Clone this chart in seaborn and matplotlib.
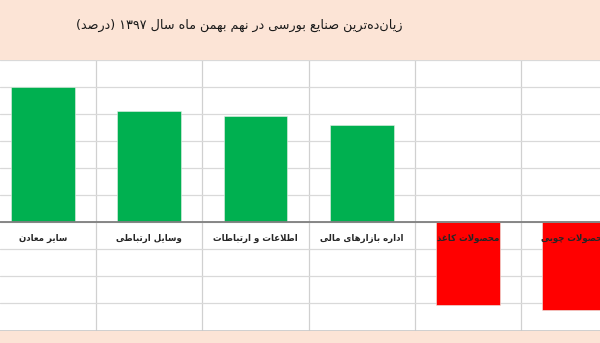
import re
import matplotlib
matplotlib.use("Agg")
import matplotlib.pyplot as plt
import seaborn as sns

# ---------------- data ----------------
title_text = "زیان‌ده‌ترین صنایع بورسی در نهم بهمن ماه سال ۱۳۹۷ (درصد)"
categories = ["سایر معادن", "وسایل ارتباطی", "اطلاعات و ارتباطات",
              "اداره بازارهای مالی", "محصولات کاغذ", "محصولات چوبی"]
values = [25.0, 20.6, 19.7, 18.0, -15.3, -16.2]
bar_colors = ["#00B050", "#00B050", "#00B050", "#00B050", "#FF0000", "#FF0000"]

# ---------------- arabic shaping (matplotlib has no complex text layout) ----------------
FORMS = {
    '\u0622': ('\uFE81', '\uFE82', None, None),
    '\u0627': ('\uFE8D', '\uFE8E', None, None),
    '\u0628': ('\uFE8F', '\uFE90', '\uFE91', '\uFE92'),
    '\u067E': ('\uFB56', '\uFB57', '\uFB58', '\uFB59'),
    '\u062A': ('\uFE95', '\uFE96', '\uFE97', '\uFE98'),
    '\u062B': ('\uFE99', '\uFE9A', '\uFE9B', '\uFE9C'),
    '\u062C': ('\uFE9D', '\uFE9E', '\uFE9F', '\uFEA0'),
    '\u0686': ('\uFB7A', '\uFB7B', '\uFB7C', '\uFB7D'),
    '\u062D': ('\uFEA1', '\uFEA2', '\uFEA3', '\uFEA4'),
    '\u062E': ('\uFEA5', '\uFEA6', '\uFEA7', '\uFEA8'),
    '\u062F': ('\uFEA9', '\uFEAA', None, None),
    '\u0630': ('\uFEAB', '\uFEAC', None, None),
    '\u0631': ('\uFEAD', '\uFEAE', None, None),
    '\u0632': ('\uFEAF', '\uFEB0', None, None),
    '\u0698': ('\uFB8A', '\uFB8B', None, None),
    '\u0633': ('\uFEB1', '\uFEB2', '\uFEB3', '\uFEB4'),
    '\u0634': ('\uFEB5', '\uFEB6', '\uFEB7', '\uFEB8'),
    '\u0635': ('\uFEB9', '\uFEBA', '\uFEBB', '\uFEBC'),
    '\u0636': ('\uFEBD', '\uFEBE', '\uFEBF', '\uFEC0'),
    '\u0637': ('\uFEC1', '\uFEC2', '\uFEC3', '\uFEC4'),
    '\u0638': ('\uFEC5', '\uFEC6', '\uFEC7', '\uFEC8'),
    '\u0639': ('\uFEC9', '\uFECA', '\uFECB', '\uFECC'),
    '\u063A': ('\uFECD', '\uFECE', '\uFECF', '\uFED0'),
    '\u0641': ('\uFED1', '\uFED2', '\uFED3', '\uFED4'),
    '\u0642': ('\uFED5', '\uFED6', '\uFED7', '\uFED8'),
    '\u06A9': ('\uFB8E', '\uFB8F', '\uFB90', '\uFB91'),
    '\u06AF': ('\uFB92', '\uFB93', '\uFB94', '\uFB95'),
    '\u0644': ('\uFEDD', '\uFEDE', '\uFEDF', '\uFEE0'),
    '\u0645': ('\uFEE1', '\uFEE2', '\uFEE3', '\uFEE4'),
    '\u0646': ('\uFEE5', '\uFEE6', '\uFEE7', '\uFEE8'),
    '\u0648': ('\uFEED', '\uFEEE', None, None),
    '\u0647': ('\uFEE9', '\uFEEA', '\uFEEB', '\uFEEC'),
    '\u06CC': ('\uFBFC', '\uFBFD', '\uFBFE', '\uFBFF'),
}


def dual(c):
    return c in FORMS and FORMS[c][2] is not None


def shape(s):
    out = []
    i = 0
    n = len(s)
    while i < n:
        c = s[i]
        if c == '\u200C':
            i += 1
            continue
        if c not in FORMS:
            out.append(c)
            i += 1
            continue
        prev = s[i - 1] if i > 0 else ''
        cp = dual(prev)
        if c == '\u0644' and i + 1 < n and s[i + 1] == '\u0627':
            out.append('\uFEFC' if cp else '\uFEFB')
            i += 2
            continue
        nxt = s[i + 1] if i + 1 < n else ''
        cn = dual(c) and nxt in FORMS
        f = FORMS[c]
        if cp and cn:
            out.append(f[3])
        elif cp:
            out.append(f[1])
        elif cn:
            out.append(f[2])
        else:
            out.append(f[0])
        i += 1
    return ''.join(out)


def rtl(s):
    s = shape(s)
    parts = re.findall(r'[0-9\u06F0-\u06F9]+|[^0-9\u06F0-\u06F9]', s)
    parts.reverse()
    mirror = {'(': ')', ')': '('}
    return ''.join(mirror.get(p, p) for p in parts)


# ---------------- figure ----------------
sns.set_theme(style="white")
plt.rcParams['font.family'] = ['DejaVu Sans']

peach = "#FCE4D6"
fig = plt.figure(figsize=(6.0, 3.43), dpi=100, facecolor=peach)
ax = fig.add_axes([0.0, 12.5 / 343, 1.0, 270.5 / 343])
ax.set_facecolor("white")

sns.barplot(x=categories, y=values, hue=categories, palette=bar_colors,
            legend=False, width=0.6, saturation=1, ax=ax,
            edgecolor="#e8f0e8", linewidth=0.4, zorder=2)

ax.set_ylim(-20, 30)
ax.set_xlim(-0.403, 5.241)
ax.set_yticks(range(-20, 31, 5))
ax.set_xticks([i + 0.5 for i in range(len(categories) - 1)], minor=True)
ax.set_xticks([])
ax.grid(True, axis='y', which='major', color="#D9D9D9", lw=0.9)
ax.grid(True, axis='x', which='minor', color="#D0D0D0", lw=0.9)
ax.set_axisbelow(True)
ax.tick_params(which='both', length=0, labelleft=False, labelbottom=False)
for sp in ax.spines.values():
    sp.set_visible(False)
ax.axhline(-20, color="#C8C8C8", lw=1.2, zorder=1)
ax.axhline(0, color="#7F7F7F", lw=1.3, zorder=3)
ax.set_xlabel("")
ax.set_ylabel("")

for i, name in enumerate(categories):
    ax.text(i, -2.95, rtl(name), ha='center', va='center', fontsize=6.2,
            fontweight='bold', color="#262626", zorder=4)

fig.text(0.398, 1 - 25 / 343, rtl(title_text), ha='center', va='center',
         fontsize=9.2, color="#1a1a1a")

fig.savefig("out.png", dpi=100, facecolor=peach)
